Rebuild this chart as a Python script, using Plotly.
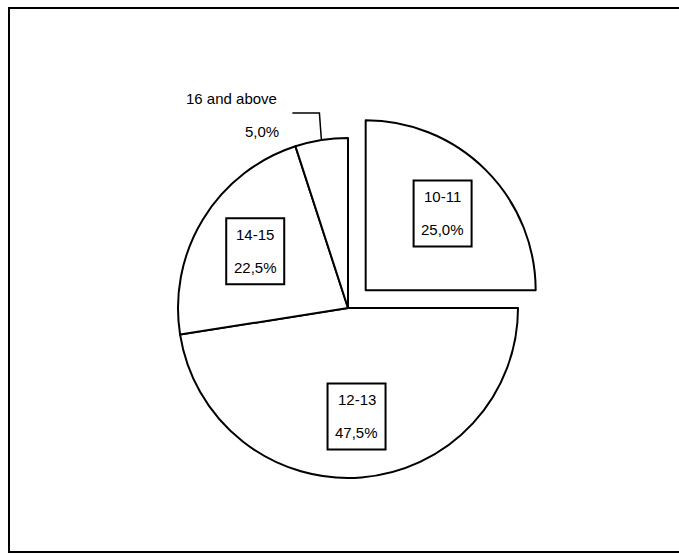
import math
import plotly.graph_objects as go

# ---- data ----
labels = ["10-11", "12-13", "14-15", "16 and above"]
values = [25.0, 47.5, 22.5, 5.0]
pulls = [0.147, 0, 0, 0]
outside = [False, False, False, True]

# ---- geometry / style ----
W, H = 679, 554
CX, CY, R = 348, 308, 170
MAXPULL = max(pulls)
LABEL_FRAC = 0.64
BOX_W, BOX_H = 58, 66
LINE_GAP = 16.5
FONT = dict(family="Liberation Sans, Arial, sans-serif", size=15, color="black")

half = R * (1 + MAXPULL)
dom_x = [(CX - half) / W, (CX + half) / W]
dom_y = [(H - CY - half) / H, (H - CY + half) / H]

def pct(v):
    return f"{v / sum(values) * 100:.1f}%".replace(".", ",")

fig = go.Figure()
fig.add_trace(go.Pie(
    labels=labels, values=values, pull=pulls, sort=False,
    direction="clockwise", rotation=0,
    marker=dict(colors=["white"] * len(values), line=dict(color="black", width=2)),
    textinfo="none", hoverinfo="label+percent", showlegend=False,
    domain=dict(x=dom_x, y=dom_y),
))

shapes = []
annotations = []
total = sum(values)
start = 0.0
for lab, v, p, out in zip(labels, values, pulls, outside):
    span = v / total * 360
    mid = math.radians(start + span / 2)
    dx, dy = math.sin(mid), -math.cos(mid)
    if not out:
        rr = (p + LABEL_FRAC) * R
        bx, by = CX + rr * dx, CY + rr * dy
        shapes.append(dict(type="rect", xref="x", yref="y",
                           x0=bx - BOX_W / 2, x1=bx + BOX_W / 2,
                           y0=by - BOX_H / 2, y1=by + BOX_H / 2,
                           line=dict(color="black", width=2), fillcolor="white"))
        for txt, off in ((lab, -LINE_GAP), (pct(v), LINE_GAP)):
            annotations.append(dict(x=bx, y=by + off, xref="x", yref="y",
                                    text=txt, showarrow=False, font=FONT,
                                    xanchor="center", yanchor="middle"))
    else:
        px, py = CX + R * dx, CY + R * dy
        ex, ey = px - 2, py - 27
        hx = ex - 27
        shapes.append(dict(type="path", xref="x", yref="y",
                           path=f"M {px} {py} L {ex} {ey} L {hx} {ey}",
                           line=dict(color="black", width=1.5)))
        for txt, off, xo in ((lab, -LINE_GAP, -13), (pct(v), LINE_GAP, -11)):
            annotations.append(dict(x=hx + xo, y=ey + 2 + off, xref="x", yref="y",
                                    text=txt, showarrow=False, font=FONT,
                                    xanchor="right", yanchor="middle"))
    start += span

# outer frame (right edge falls outside the page)
shapes.append(dict(type="rect", xref="paper", yref="paper",
                   x0=9 / W, y0=1 - 552 / H, x1=1.05, y1=1 - 8 / H,
                   line=dict(color="black", width=2), layer="below"))

fig.update_layout(
    width=W, height=H, margin=dict(l=0, r=0, t=0, b=0),
    paper_bgcolor="white", plot_bgcolor="rgba(0,0,0,0)",
    xaxis=dict(range=[0, W], visible=False, domain=[0, 1], fixedrange=True),
    yaxis=dict(range=[H, 0], visible=False, domain=[0, 1], fixedrange=True),
    shapes=shapes, annotations=annotations,
)

fig.write_html("out.html")
